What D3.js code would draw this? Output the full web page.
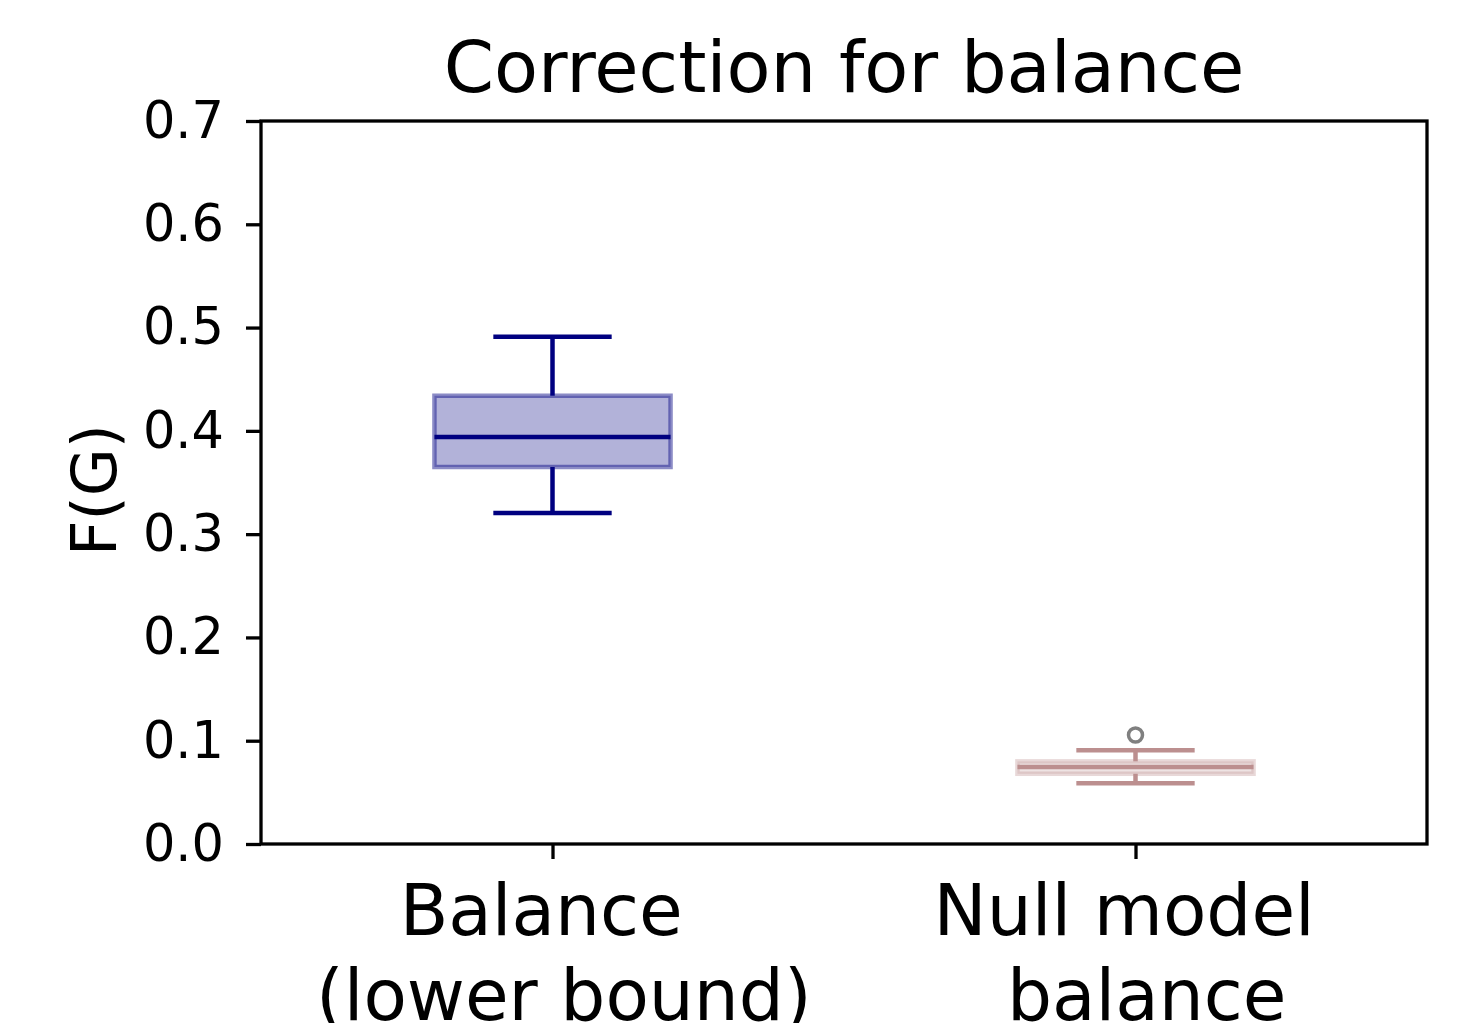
<!DOCTYPE html>
<html>
<head>
<meta charset="utf-8">
<script src="https://cdn.jsdelivr.net/npm/d3@7"></script>
<style>
  body { margin: 0; background: #fff; }
  svg { display: block; font-family: "DejaVu Sans", sans-serif; }
</style>
</head>
<body>
<svg id="chart"></svg>
<script>
// Box statistics
const categories = ["Balance \n (lower bound)", "Null model \n balance"];
const whiskerLo = [0.3205, 0.0588];
const q1 = [0.365, 0.068];
const median = [0.394, 0.0745];
const q3 = [0.434, 0.080];
const whiskerHi = [0.491, 0.0907];
const outliers = [[], [0.1055]];
const yTicks = [0, 0.1, 0.2, 0.3, 0.4, 0.5, 0.6, 0.7];

const colors = ["navy", "rosybrown"];
const fillAlpha = [0.3, 0.25];
const edgeAlpha = [0.45, 0.35];

const w = 1463, h = 1023;
const axLeft = 261, axRight = 1427, axTop = 121, axBottom = 844;

const svg = d3.select("#chart")
    .attr("width", w)
    .attr("height", h);

const x = d3.scaleLinear().domain([0.5, 2.5]).range([axLeft, axRight]);
const y = d3.scaleLinear().domain([0, 0.7]).range([axBottom, axTop]);

const boxes = categories.map((c, i) => ({
    pos: i + 1,
    lo: whiskerLo[i], q1: q1[i], med: median[i], q3: q3[i], hi: whiskerHi[i],
    out: outliers[i], color: colors[i], fa: fillAlpha[i], ea: edgeAlpha[i]
}));

const boxW = 0.405, capW = 0.203, lw = 4.5;

const g = svg.append("g");

// boxes
g.selectAll("rect.box")
    .data(boxes)
    .enter()
    .append("rect")
    .attr("class", "box")
    .attr("x", d => x(d.pos - boxW / 2))
    .attr("width", d => x(d.pos + boxW / 2) - x(d.pos - boxW / 2))
    .attr("y", d => y(d.q3))
    .attr("height", d => y(d.q1) - y(d.q3))
    .attr("fill", d => d.color)
    .attr("fill-opacity", d => d.fa)
    .attr("stroke", d => d.color)
    .attr("stroke-opacity", d => d.ea)
    .attr("stroke-width", lw);

// whiskers, caps, medians, outliers
boxes.forEach(d => {
    [[d.q3, d.hi], [d.q1, d.lo]].forEach(([a, b]) => {
        g.append("line")
            .attr("x1", x(d.pos)).attr("x2", x(d.pos))
            .attr("y1", y(a)).attr("y2", y(b))
            .attr("stroke", d.color)
            .attr("stroke-width", lw);
    });
    [d.hi, d.lo].forEach(v => {
        g.append("line")
            .attr("x1", x(d.pos - capW / 2)).attr("x2", x(d.pos + capW / 2))
            .attr("y1", y(v)).attr("y2", y(v))
            .attr("stroke", d.color)
            .attr("stroke-width", lw);
    });
    g.append("line")
        .attr("x1", x(d.pos - boxW / 2)).attr("x2", x(d.pos + boxW / 2))
        .attr("y1", y(d.med)).attr("y2", y(d.med))
        .attr("stroke", d.color)
        .attr("stroke-width", lw);
    d.out.forEach(v => {
        g.append("circle")
            .attr("cx", x(d.pos))
            .attr("cy", y(v))
            .attr("r", 7)
            .attr("fill", "none")
            .attr("stroke", "#808080")
            .attr("stroke-width", 3.5);
    });
});

// axes
const yAxis = d3.axisLeft(y)
    .tickValues(yTicks)
    .tickFormat(d3.format(".1f"))
    .tickSize(15)
    .tickPadding(22);

const ya = svg.append("g")
    .attr("transform", `translate(${axLeft},0)`)
    .call(yAxis);
ya.select(".domain").remove();
ya.selectAll(".tick line").attr("stroke", "#000").attr("stroke-width", 3.3);
ya.selectAll(".tick text")
    .attr("fill", "#000")
    .style("font-size", "51px")
    .style("font-family", "DejaVu Sans");

const xAxis = d3.axisBottom(x)
    .tickValues(boxes.map(d => d.pos))
    .tickFormat("")
    .tickSize(15);

const xa = svg.append("g")
    .attr("transform", `translate(0,${axBottom})`)
    .call(xAxis);
xa.select(".domain").remove();
xa.selectAll(".tick line").attr("stroke", "#000").attr("stroke-width", 3.3);

// multi-line x tick labels
boxes.forEach((d, i) => {
    const t = svg.append("text")
        .attr("text-anchor", "middle")
        .attr("xml:space", "preserve")
        .style("white-space", "pre")
        .style("font-size", "71px")
        .attr("fill", "#000");
    categories[i].split("\n").forEach((line, k) => {
        t.append("tspan")
            .attr("x", x(d.pos))
            .attr("y", 935 + k * 85)
            .text(line);
    });
});

// frame
svg.append("rect")
    .attr("x", axLeft).attr("y", axTop)
    .attr("width", axRight - axLeft).attr("height", axBottom - axTop)
    .attr("fill", "none")
    .attr("stroke", "#000")
    .attr("stroke-width", 3.3);

// title
svg.append("text")
    .attr("x", (axLeft + axRight) / 2)
    .attr("y", 92)
    .attr("text-anchor", "middle")
    .style("font-size", "72px")
    .text("Correction for balance");

// y label
svg.append("text")
    .attr("transform", `translate(116,490) rotate(-90)`)
    .attr("text-anchor", "middle")
    .style("font-size", "62px")
    .text("F(G)");
</script>
</body>
</html>
